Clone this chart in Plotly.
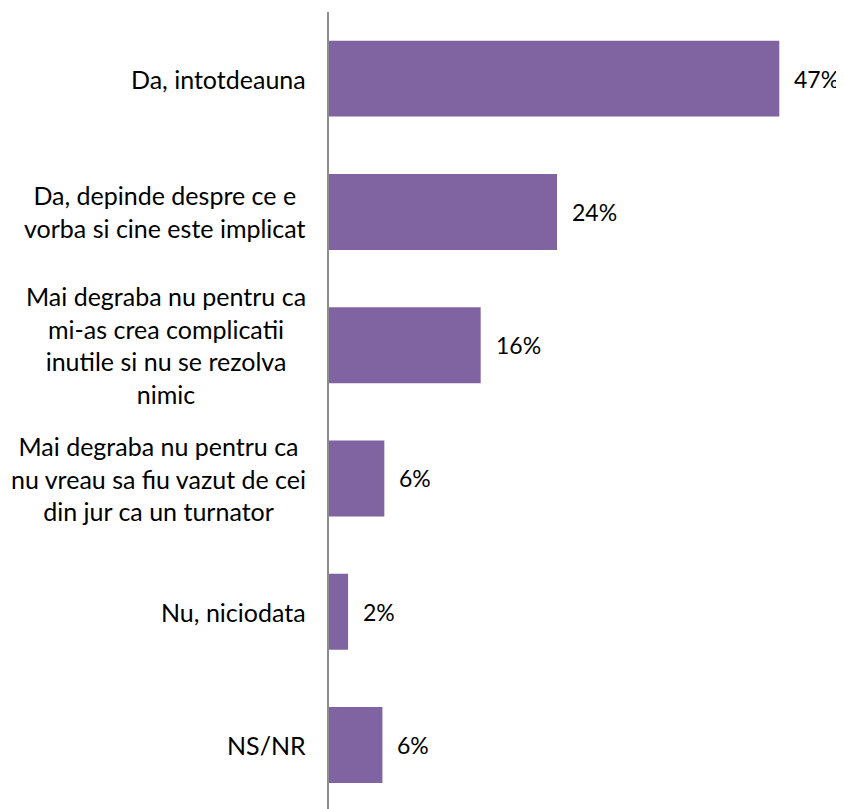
import plotly.graph_objects as go

categories = [
    "Da, intotdeauna",
    "Da, depinde despre ce e<br>vorba si cine este implicat",
    "Mai degraba nu pentru ca<br>mi-as crea complicatii<br>inutile si nu se rezolva<br>nimic",
    "Mai degraba nu pentru ca<br>nu vreau sa fiu vazut de cei<br>din jur ca un turnator",
    "Nu, niciodata",
    "NS/NR",
]
values = [47.2, 23.9, 15.9, 5.8, 2.0, 5.6]
value_labels = ["47%", "24%", "16%", "6%", "2%", "6%"]

FONT = "Lato"
BAR_COLOR = "#8064A2"

fig = go.Figure()
fig.add_trace(go.Bar(
    x=values,
    y=categories,
    orientation="h",
    marker=dict(color=BAR_COLOR, line=dict(width=0)),
    width=0.57,
    hoverinfo="skip",
))

annotations = []
for cat, v, lab in zip(categories, values, value_labels):
    annotations.append(dict(
        x=v, y=cat, xref="x", yref="y", text=lab, showarrow=False,
        xanchor="left", yanchor="middle", xshift=13,
        font=dict(family=FONT, size=23, color="#000000"),
    ))
    annotations.append(dict(
        x=0, y=cat, xref="paper", yref="y", text=cat, showarrow=False,
        xanchor="right", yanchor="middle", xshift=-21, align="center",
        font=dict(family=FONT, size=25, color="#000000"),
    ))

fig.update_layout(
    width=836, height=801,
    margin=dict(l=321, r=38, t=4, b=0),
    paper_bgcolor="white", plot_bgcolor="white",
    showlegend=False,
    annotations=annotations,
    xaxis=dict(range=[0, 50], visible=False, showgrid=False, zeroline=False),
    yaxis=dict(
        range=[5.48, -0.5], showticklabels=False, showgrid=False, zeroline=False,
        showline=True, linecolor="#8c8c8c", linewidth=2, ticks="",
    ),
)

fig.write_html("out.html")
